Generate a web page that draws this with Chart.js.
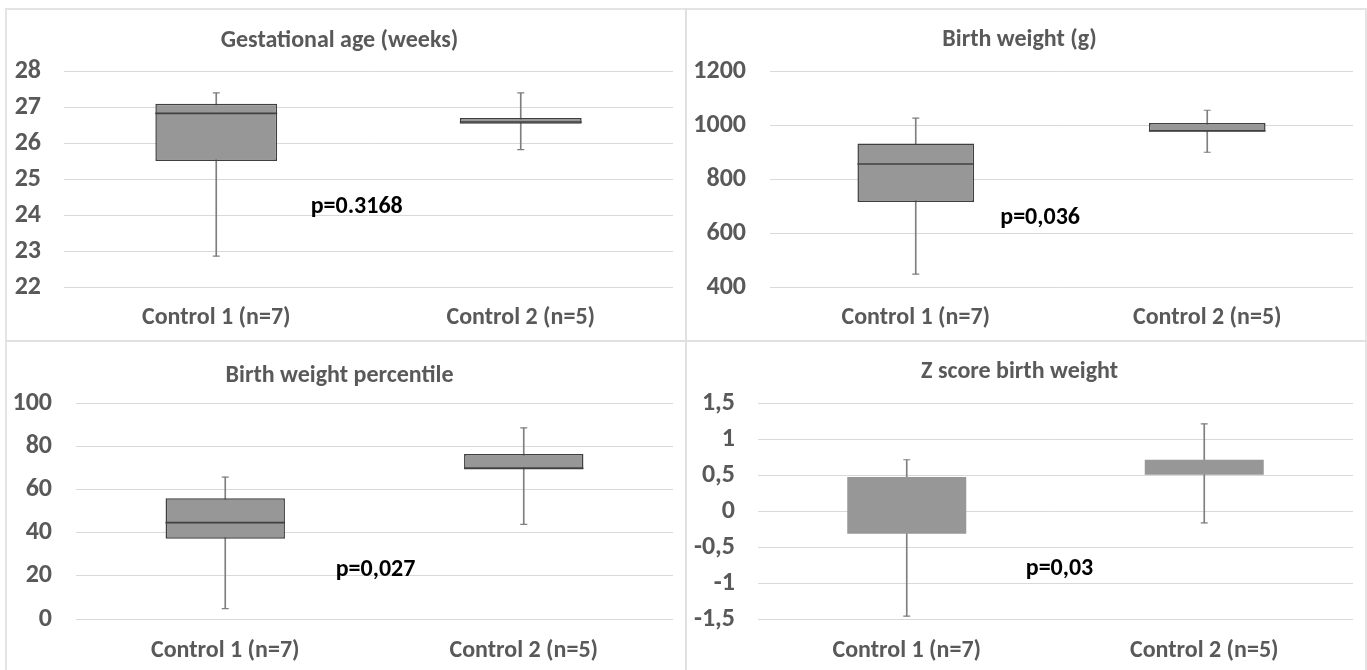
<!DOCTYPE html>
<html>
<head>
<meta charset="utf-8">
<script src="https://cdn.jsdelivr.net/npm/chart.js@4.4.1/dist/chart.umd.min.js"></script>
<style>
  html, body { margin: 0; padding: 0; background: #fff; }
  body { width: 1367px; height: 670px; position: relative; overflow: hidden; }
  .panel { position: absolute; }
  .frame { position: absolute; left: 5px; top: 8px; width: 1362px; height: 664px; box-sizing: border-box; border: 2px solid #e4e4e4; }
  .vline { position: absolute; left: 685px; top: 8px; width: 2px; height: 662px; background: #e0e0e0; }
  .hline { position: absolute; left: 5px; top: 340px; width: 1362px; height: 2px; background: #e0e0e0; }
</style>
</head>
<body>
<div class="frame"></div>
<div class="vline"></div>
<div class="hline"></div>
<div class="panel" style="left:6px;top:9px;width:680px;height:332px"><canvas id="gaChart"></canvas></div>
<div class="panel" style="left:686px;top:9px;width:681px;height:332px"><canvas id="bwChart"></canvas></div>
<div class="panel" style="left:6px;top:341px;width:680px;height:329px"><canvas id="pctChart"></canvas></div>
<div class="panel" style="left:686px;top:341px;width:681px;height:329px"><canvas id="zChart"></canvas></div>
<script>
// categories shared by all four panels
var categories = ['Control 1 (n=7)', 'Control 2 (n=5)'];

// gestational age (weeks)
var gaMin = [22.86, 25.83];
var gaQ1 = [25.51, 26.55];
var gaMedian = [26.84, 26.6];
var gaQ3 = [27.11, 26.71];
var gaMax = [27.41, 27.41];

// birth weight (g)
var bwMin = [448, 901];
var bwQ1 = [716, 978];
var bwMedian = [857, 980];
var bwQ3 = [933, 1010];
var bwMax = [1028, 1057];

// birth weight percentile
var pctMin = [4.8, 44];
var pctQ1 = [37.3, 69.8];
var pctMedian = [44.8, 70];
var pctQ3 = [56.1, 76.7];
var pctMax = [65.9, 88.8];

// z score birth weight (no median line drawn in the original)
var zMin = [-1.46, -0.16];
var zQ1 = [-0.31, 0.51];
var zMedian = [null, null];
var zQ3 = [0.48, 0.72];
var zMax = [0.72, 1.22];

var BOX_FRACTION = 0.4;
var FONT = "Carlito, 'Liberation Sans Narrow', 'DejaVu Sans Condensed', sans-serif";
var TEXT_GREY = '#595959';
var GRID_GREY = '#d9d9d9';

function boxHalfWidth(ctx) {
    var x = ctx.chart.scales.x;
    if (!x) return 0;
    return x.width / categories.length * BOX_FRACTION / 2;
}

// draws the p value text at a data position
var pLabelPlugin = {
    id: 'pLabel',
    afterDatasetsDraw: function (chart) {
        var o = chart.options.plugins.pLabel;
        if (!o || !o.text) return;
        var c = chart.ctx;
        c.save();
        c.font = 'bold ' + o.size + 'px ' + FONT;
        c.fillStyle = '#000';
        c.textAlign = 'left';
        c.textBaseline = 'middle';
        c.fillText(o.text, chart.scales.x.getPixelForValue(o.x), chart.scales.y.getPixelForValue(o.y));
        c.restore();
    }
};

function createBoxChart(id, s, cfg) {
    var el = document.getElementById(id);
    var boxes = [];
    var whiskers = [];
    for (var i = 0; i < categories.length; i++) {
        boxes.push([s.q1[i], s.q3[i]]);
        whiskers.push([s.min[i], s.max[i]]);
    }
    var capStyle = {
        type: 'line', showLine: false, pointStyle: 'line', pointRadius: 3.5, pointHoverRadius: 3.5,
        pointBorderColor: '#7f7f7f', pointBorderWidth: 1.2, order: 2
    };
    return new Chart(el.getContext('2d'), {
        type: 'bar',
        data: {
            labels: categories,
            datasets: [
                { type: 'line', data: s.median, showLine: false, pointStyle: 'line',
                  pointRadius: boxHalfWidth, pointHoverRadius: boxHalfWidth,
                  pointBorderColor: '#404040', pointBorderWidth: 1.6, order: 0 },
                { data: boxes, backgroundColor: cfg.boxColor, borderColor: cfg.boxBorder,
                  borderWidth: cfg.boxBorderWidth, borderSkipped: false, grouped: false,
                  barPercentage: BOX_FRACTION, categoryPercentage: 1, order: 1 },
                Object.assign({ data: s.max }, capStyle),
                Object.assign({ data: s.min }, capStyle),
                { data: whiskers, backgroundColor: '#7f7f7f', barThickness: 1, grouped: false, order: 3 }
            ]
        },
        options: {
            responsive: true,
            maintainAspectRatio: false,
            animation: false,
            events: [],
            layout: { padding: { left: 0, right: cfg.padRight, top: 0, bottom: 0 } },
            plugins: {
                legend: { display: false },
                tooltip: { enabled: false },
                title: {
                    display: true,
                    text: cfg.title,
                    color: TEXT_GREY,
                    font: { family: FONT, size: 24, weight: 'bold', lineHeight: 1.2 },
                    padding: { top: cfg.titleTop, bottom: cfg.titleBottom }
                },
                pLabel: { text: cfg.pText, x: cfg.pX, y: cfg.pY, size: 24 }
            },
            scales: {
                x: {
                    grid: { display: false, drawTicks: false },
                    border: { display: false },
                    ticks: { color: TEXT_GREY, padding: cfg.xPad, font: { family: FONT, size: 24, weight: 'bold' } },
                    afterFit: function (scale) { scale.height = cfg.xHeight; }
                },
                y: {
                    min: cfg.yMin,
                    max: cfg.yMax,
                    grid: { color: GRID_GREY, lineWidth: 1, drawTicks: false },
                    border: { display: false },
                    ticks: {
                        stepSize: cfg.step,
                        color: TEXT_GREY,
                        padding: cfg.yPad,
                        font: { family: FONT, size: 26, weight: 'bold' },
                        callback: function (v) { return String(v).replace('.', ','); }
                    },
                    afterFit: function (scale) { scale.width = cfg.yWidth; }
                }
            }
        },
        plugins: [pLabelPlugin]
    });
}

createBoxChart('gaChart',
    { min: gaMin, q1: gaQ1, median: gaMedian, q3: gaQ3, max: gaMax },
    { title: 'Gestational age (weeks)', yMin: 22, yMax: 28, step: 1,
      yWidth: 58, padRight: 13, titleTop: 18, titleBottom: 16, xHeight: 54, xPad: 17, yPad: 23,
      boxColor: '#979797', boxBorder: '#3f3f3f', boxBorderWidth: 1.5,
      pText: 'p=0.3168', pX: 0.31, pY: 24.23 });

createBoxChart('bwChart',
    { min: bwMin, q1: bwQ1, median: bwMedian, q3: bwQ3, max: bwMax },
    { title: 'Birth weight (g)', yMin: 400, yMax: 1200, step: 200,
      yWidth: 84, padRight: 14, titleTop: 17, titleBottom: 17, xHeight: 54, xPad: 17, yPad: 24,
      boxColor: '#979797', boxBorder: '#3f3f3f', boxBorderWidth: 1.5,
      pText: 'p=0,036', pX: 0.29, pY: 656 });

createBoxChart('pctChart',
    { min: pctMin, q1: pctQ1, median: pctMedian, q3: pctQ3, max: pctMax },
    { title: 'Birth weight percentile', yMin: 0, yMax: 100, step: 20,
      yWidth: 70, padRight: 13, titleTop: 21, titleBottom: 13, xHeight: 51, xPad: 18, yPad: 24,
      boxColor: '#979797', boxBorder: '#3f3f3f', boxBorderWidth: 1.5,
      pText: 'p=0,027', pX: 0.37, pY: 22.9 });

createBoxChart('zChart',
    { min: zMin, q1: zQ1, median: zMedian, q3: zQ3, max: zMax },
    { title: 'Z score birth weight', yMin: -1.5, yMax: 1.5, step: 0.5,
      yWidth: 72, padRight: 14, titleTop: 17, titleBottom: 17, xHeight: 51, xPad: 18, yPad: 23,
      boxColor: '#979797', boxBorder: '#979797', boxBorderWidth: 0,
      pText: 'p=0,03', pX: 0.4, pY: -0.8 });
</script>
</body>
</html>
